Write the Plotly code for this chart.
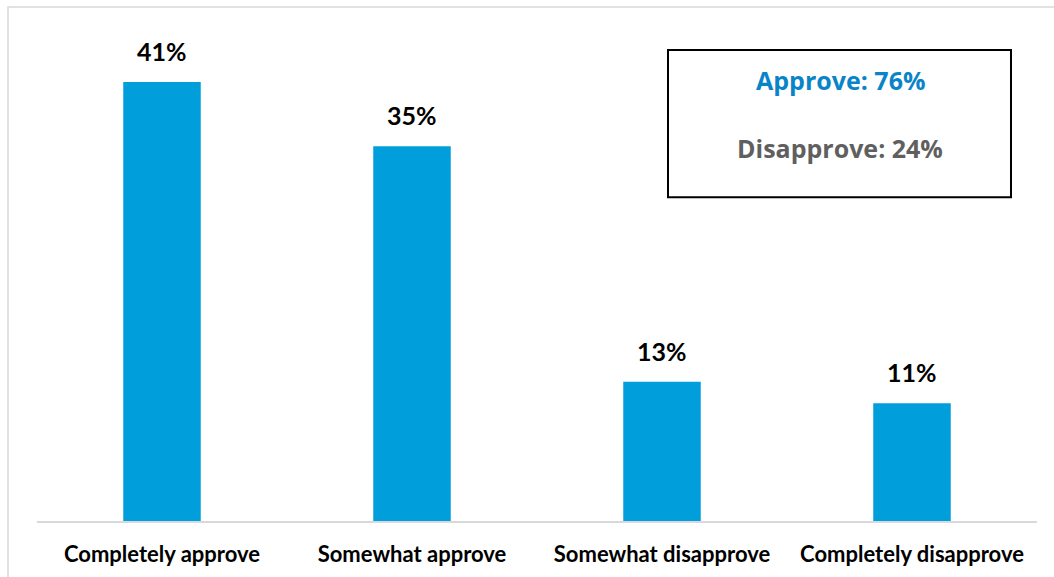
import plotly.graph_objects as go

categories = ["Completely approve", "Somewhat approve", "Somewhat disapprove", "Completely disapprove"]
values = [41, 35, 13, 11]
approve_total = 76
disapprove_total = 24

bar_color = "#009FDB"
label_font = "Lato, 'Open Sans', sans-serif"

fig = go.Figure()
fig.add_trace(go.Bar(
    x=categories,
    y=values,
    marker=dict(color=bar_color, line=dict(width=0)),
    hoverinfo="skip",
))

annotations = []
for cat, v in zip(categories, values):
    annotations.append(dict(
        x=cat, y=v, xref="x", yref="y",
        text=f"<b>{v}%</b>", showarrow=False,
        yanchor="bottom", yshift=14,
        font=dict(family=label_font, size=25, color="#000000"),
    ))

# summary box text
annotations.append(dict(
    x=0.803, y=0.858, xref="paper", yref="paper",
    text=f"<b>Approve: {approve_total}%</b>", showarrow=False,
    xanchor="center", yanchor="middle",
    font=dict(family="'Open Sans', sans-serif", size=25, color="#0A84C8"),
))
annotations.append(dict(
    x=0.803, y=0.7257, xref="paper", yref="paper",
    text=f"<b>Disapprove: {disapprove_total}%</b>", showarrow=False,
    xanchor="center", yanchor="middle",
    font=dict(family="'Open Sans', sans-serif", size=25, color="#5F5F5F"),
))

shapes = [
    # outer chart frame
    dict(type="rect", xref="paper", yref="paper",
         x0=-0.029, x1=1.04, y0=-0.2, y1=1.0,
         line=dict(color="#D9D9D9", width=1.5), fillcolor="rgba(0,0,0,0)", layer="below"),
    # summary box
    dict(type="rect", xref="paper", yref="paper",
         x0=0.631, x1=0.974, y0=0.630, y1=0.9163,
         line=dict(color="#000000", width=2), fillcolor="#FFFFFF"),
]

fig.update_layout(
    width=1054, height=577,
    margin=dict(l=37, r=17, t=7, b=56),
    paper_bgcolor="#FFFFFF",
    plot_bgcolor="#FFFFFF",
    bargap=0.69,
    showlegend=False,
    annotations=annotations,
    shapes=shapes,
    xaxis=dict(
        showline=True, linecolor="#D9D9D9", linewidth=2,
        showgrid=False, ticks="", ticklabelstandoff=13,
        tickfont=dict(family=label_font, size=22, color="#000000", weight="bold"),
    ),
    yaxis=dict(
        range=[0, 48], visible=False, showgrid=False, zeroline=False,
    ),
)

fig.write_html("out.html")
